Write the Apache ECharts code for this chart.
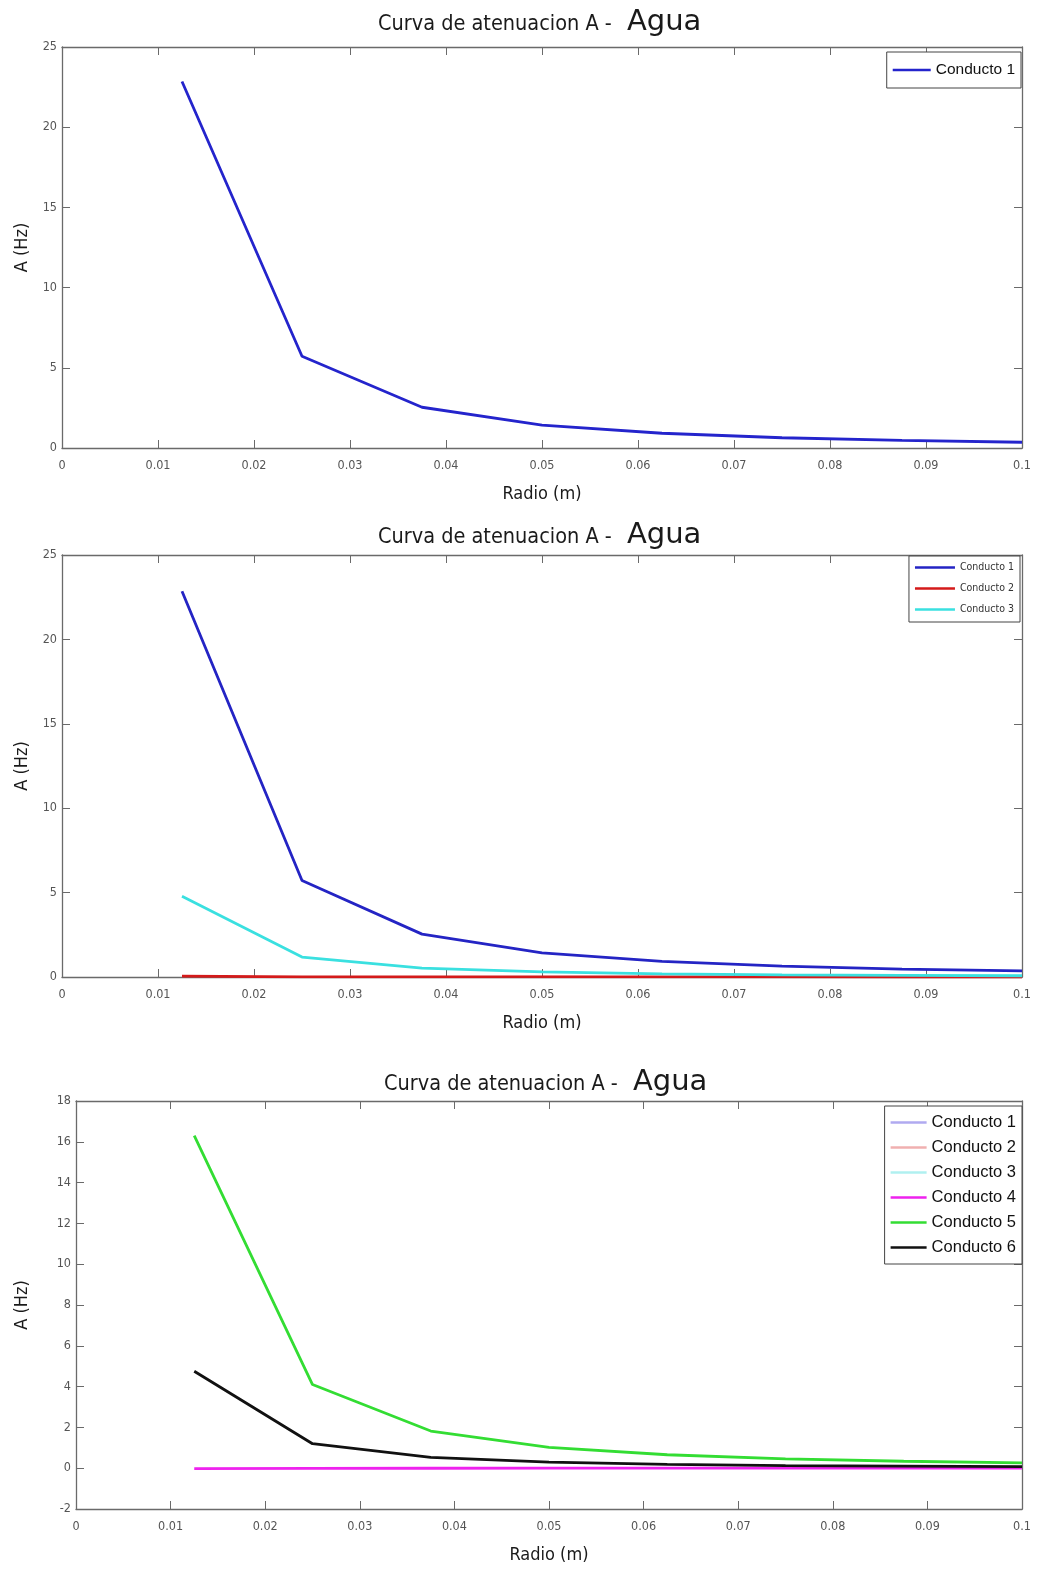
<!DOCTYPE html>
<html>
<head>
<meta charset="utf-8">
<script src="https://cdn.jsdelivr.net/npm/echarts@6/dist/echarts.min.js"></script>
<style>
  html, body { margin: 0; padding: 0; background: #fff; }
  body { width: 1037px; height: 1569px; position: relative; overflow: hidden; }
  .panel { position: absolute; left: 0; width: 1037px; }
</style>
</head>
<body>
<div id="c1" class="panel" style="top:0;height:520px"></div>
<div id="c2" class="panel" style="top:520px;height:520px"></div>
<div id="c3" class="panel" style="top:1040px;height:529px"></div>
<script>
// Radius of each duct (m)
const radio = [0.0125, 0.025, 0.0375, 0.05, 0.0625, 0.075, 0.0875, 0.1];

// Attenuation A (Hz) per duct
const conducto1 = [22.85, 5.72, 2.54, 1.43, 0.92, 0.64, 0.47, 0.36];
const conducto2 = [0.05, 0.012, 0.006, 0.003, 0.002, 0.0015, 0.001, 0.0008];
const conducto3 = [4.78, 1.18, 0.53, 0.3, 0.19, 0.13, 0.1, 0.075];
const conducto4 = [-0.02, -0.005, -0.002, -0.001, 0, 0, 0, 0];
const conducto5 = [16.3, 4.1, 1.82, 1.02, 0.66, 0.46, 0.34, 0.26];
const conducto6 = [4.75, 1.2, 0.53, 0.3, 0.19, 0.13, 0.1, 0.075];

// Axis ticks
const xTicks = { min: 0, max: 0.1, interval: 0.01 };
const yTicksA = { min: 0, max: 25, interval: 5 };
const yTicksB = { min: -2, max: 18, interval: 2 };

const narrow = "'Liberation Sans Narrow', 'DejaVu Sans Condensed', 'Liberation Sans', sans-serif";
const axisGray = '#6a6a6a';

function pts(vals) {
  return vals.map((v, i) => [radio[i], v]);
}

function titleOf(left, top) {
  return {
    text: '{a|Curva de atenuacion A - }{b|Agua}',
    left: left,
    top: top,
    textStyle: {
      fontWeight: 'normal',
      rich: {
        a: { fontFamily: narrow, fontSize: 21.5, fontWeight: 'normal', color: '#1a1a1a' },
        b: { fontFamily: "'DejaVu Sans', sans-serif", fontSize: 29, fontWeight: 'normal', color: '#1a1a1a', padding: [0, 0, 3, 9] }
      }
    }
  };
}

function xAxes(xName) {
  const common = {
    type: 'value', min: xTicks.min, max: xTicks.max, interval: xTicks.interval,
    splitLine: { show: false },
    axisLine: { show: true, onZero: false, lineStyle: { color: axisGray, width: 1.3 } },
    axisTick: { show: true, inside: true, length: 8, lineStyle: { color: axisGray } }
  };
  return [
    Object.assign({}, common, {
      position: 'bottom',
      name: xName, nameLocation: 'middle', nameGap: 37,
      nameTextStyle: { fontFamily: narrow, fontSize: 18, color: '#1a1a1a' },
      axisLabel: {
        fontFamily: narrow, fontSize: 12.5, color: '#555', margin: 11,
        formatter: v => String(+v.toFixed(2))
      }
    }),
    Object.assign({}, common, { position: 'top', axisLabel: { show: false } })
  ];
}

function yAxes(ticks, gap) {
  const common = {
    type: 'value', min: ticks.min, max: ticks.max, interval: ticks.interval,
    splitLine: { show: false },
    axisLine: { show: true, onZero: false, lineStyle: { color: axisGray, width: 1.3 } },
    axisTick: { show: true, inside: true, length: 8, lineStyle: { color: axisGray } }
  };
  return [
    Object.assign({}, common, {
      position: 'left',
      name: 'A (Hz)', nameLocation: 'middle', nameGap: gap, nameRotate: 90,
      nameTextStyle: { fontFamily: narrow, fontSize: 18, color: '#1a1a1a' },
      axisLabel: { fontFamily: narrow, fontSize: 12.5, color: '#555', margin: 5 }
    }),
    Object.assign({}, common, { position: 'right', axisLabel: { show: false } })
  ];
}

function line(name, vals, color, width) {
  return {
    name: name, type: 'line', data: pts(vals),
    showSymbol: false, symbol: 'none', silent: true, animation: false,
    color: color,
    lineStyle: { color: color, width: width }
  };
}

function legendBox(opts) {
  return Object.assign({
    orient: 'vertical',
    icon: 'rect',
    itemWidth: 32,
    itemHeight: 2.5,
    backgroundColor: '#fff',
    borderColor: '#444',
    borderWidth: 1,
    selectedMode: false
  }, opts);
}

// Panel 1: duct 1 only
const chart1 = echarts.init(document.getElementById('c1'));
chart1.setOption({
  animation: false,
  title: titleOf(373, 3),
  grid: { left: 62, top: 47, width: 960, height: 401 },
  xAxis: xAxes('Radio (m)'),
  yAxis: yAxes(yTicksA, 31),
  legend: legendBox({
    right: 16, top: 52, padding: [10, 6, 10, 6], itemGap: 6, itemWidth: 38,
    textStyle: { fontFamily: "'Liberation Sans', sans-serif", fontSize: 15.5, color: '#111' }
  }),
  series: [line('Conducto 1', conducto1, '#2424cc', 2.8)]
});

// Panel 2: ducts 1 to 3
const chart2 = echarts.init(document.getElementById('c2'));
chart2.setOption({
  animation: false,
  title: titleOf(373, -4),
  grid: { left: 62, top: 35, width: 960, height: 422 },
  xAxis: xAxes('Radio (m)'),
  yAxis: yAxes(yTicksA, 31),
  legend: legendBox({
    right: 17, top: 36, padding: [6, 6, 7, 6], itemGap: 10, itemWidth: 40,
    textStyle: { fontFamily: "'DejaVu Sans Condensed', 'DejaVu Sans', sans-serif", fontSize: 10.5, color: '#333' }
  }),
  series: [
    line('Conducto 1', conducto1, '#2424c4', 2.8),
    line('Conducto 2', conducto2, '#d41a1a', 2.8),
    line('Conducto 3', conducto3, '#3ae0e0', 2.8)
  ]
});

// Panel 3: ducts 4 to 6 drawn, 1 to 3 listed only
const chart3 = echarts.init(document.getElementById('c3'));
chart3.setOption({
  animation: false,
  title: titleOf(379, 23),
  grid: { left: 76, top: 61, width: 946, height: 411 },
  xAxis: xAxes('Radio (m)'),
  yAxis: yAxes(yTicksB, 45),
  legend: legendBox({
    right: 15, top: 66, padding: [8, 6, 8, 6], itemGap: 8, itemWidth: 36,
    textStyle: { fontFamily: "'Liberation Sans', sans-serif", fontSize: 16.5, color: '#111' }
  }),
  series: [
    line('Conducto 1', [], '#b0aaf0', 2),
    line('Conducto 2', [], '#f0b0b0', 2),
    line('Conducto 3', [], '#b0f0f0', 2),
    line('Conducto 4', conducto4, '#ee22ee', 2.8),
    line('Conducto 5', conducto5, '#33dd33', 2.8),
    line('Conducto 6', conducto6, '#111111', 2.8)
  ]
});
</script>
</body>
</html>
